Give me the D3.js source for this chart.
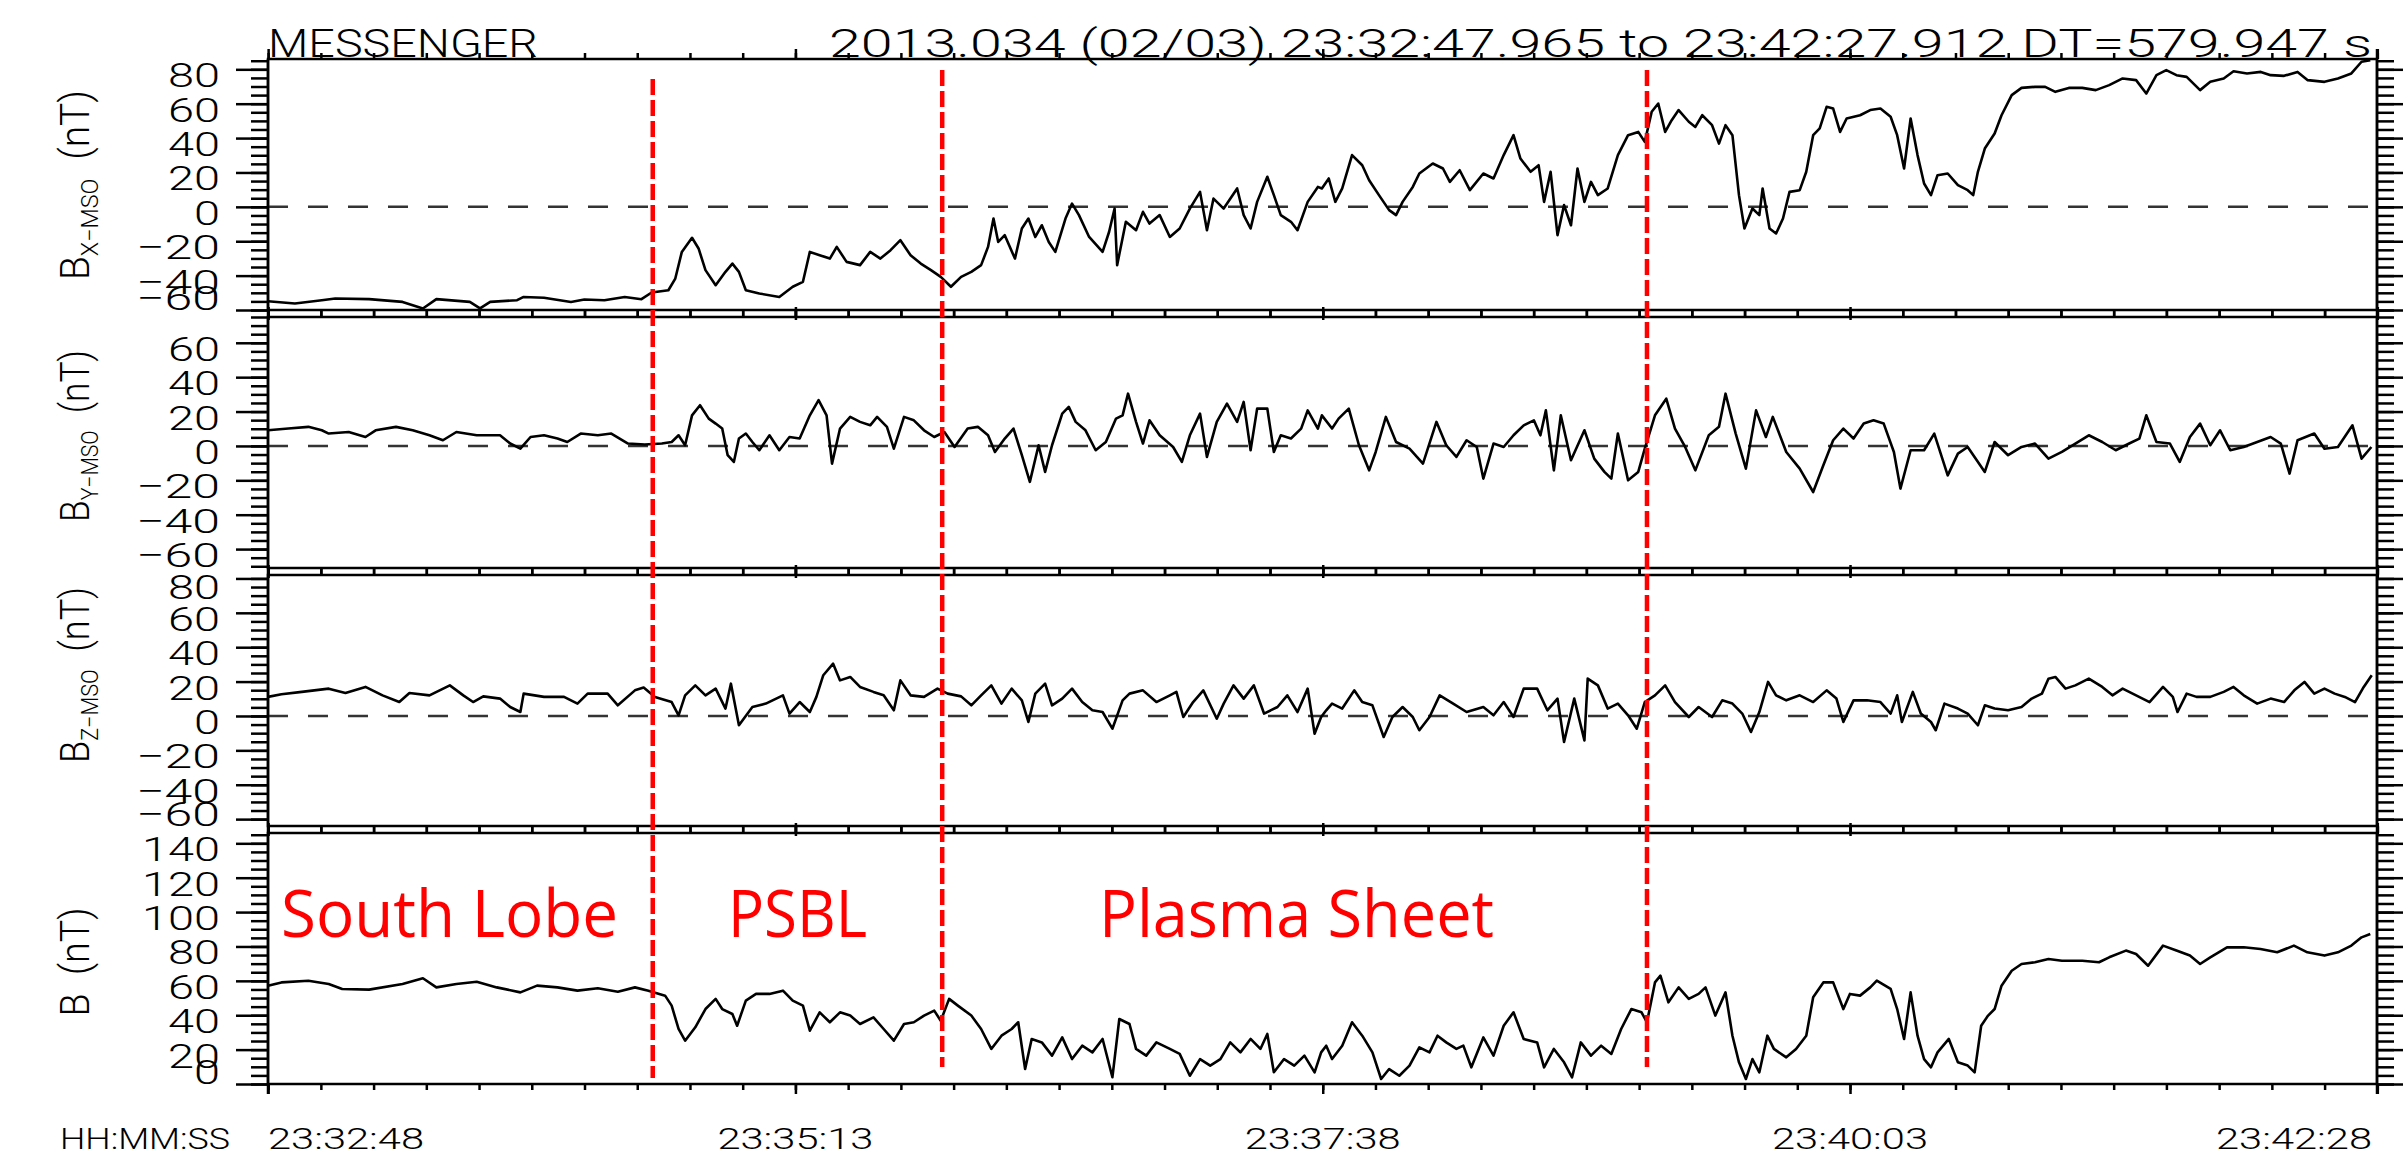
<!DOCTYPE html>
<html>
<head>
<meta charset="utf-8">
<script src="https://cdn.jsdelivr.net/npm/d3@7"></script>
<style>
  body { margin: 0; background: #fff; }
  svg text { font-family: Roboto, "DejaVu Sans", sans-serif; font-weight: 300; fill: #000; }
  .region { font-family: "Open Sans", "Noto Sans", sans-serif; font-weight: 400; fill: #ff0000; }
</style>
</head>
<body>
<div id="chart"></div>
<script>
// ---- data (seconds after 23:32:47.965, nT) ----
const startLabel = "23:32:47.965";
const durationSec = 579.947;
const timeLabels = ["23:32:48", "23:35:13", "23:37:38", "23:40:03", "23:42:28"];
const minorStepSec = 14.5;

const bxData = [[0,-54.9],[7.4,-56.2],[14.8,-54.3],[18.5,-53.3],[27.8,-53.7],[37.0,-55.3],[42.6,-59.1],[46.3,-53.7],[55.5,-55.3],[58.3,-59.1],[61.1,-55.3],[68.5,-54.3],[70.3,-52.4],[75.9,-52.9],[83.3,-55.3],[87.0,-53.9],[92.5,-54.3],[98.1,-52.4],[102.7,-53.7],[105.5,-49.8],[110.1,-48.5],[112.0,-41.7],[113.8,-26.2],[116.6,-18.0],[118.4,-24.2],[120.3,-36.8],[123.1,-45.6],[125.8,-37.8],[127.7,-33.0],[129.5,-37.8],[131.4,-48.5],[135.1,-50.4],[140.6,-52.4],[144.3,-46.5],[147.1,-43.6],[149.0,-26.2],[151.7,-28.1],[154.5,-30.1],[156.4,-23.3],[159.1,-32.0],[162.8,-33.9],[165.6,-26.2],[168.4,-30.1],[171.2,-25.2],[173.9,-19.4],[176.7,-28.1],[179.5,-33.0],[182.3,-36.8],[185.0,-40.7],[187.8,-46.5],[190.6,-40.7],[193.4,-37.8],[196.1,-33.9],[198.0,-23.3],[199.5,-6.8],[200.8,-20.4],[202.6,-16.5],[205.4,-30.1],[207.3,-12.6],[209.1,-6.8],[211.0,-17.5],[212.8,-10.7],[214.7,-20.4],[216.5,-26.2],[219.3,-6.8],[221.1,1.9],[223.0,-4.8],[225.8,-17.5],[229.5,-26.2],[231.3,-14.5],[232.8,-1.0],[233.5,-33.9],[235.9,-8.7],[238.7,-13.6],[240.6,-2.9],[242.4,-9.7],[245.2,-4.8],[248.0,-17.5],[250.7,-12.6],[253.5,-1.0],[256.3,8.7],[258.2,-13.6],[260.0,4.8],[262.8,-1.0],[266.5,10.7],[268.3,-4.8],[270.2,-12.6],[272.0,2.9],[274.8,17.5],[276.6,6.8],[278.5,-4.8],[281.3,-8.7],[283.1,-13.6],[285.9,2.9],[288.7,11.6],
  [289.8,10.7],[291.7,16.5],[293.5,2.9],[295.4,10.7],[298.1,30.1],[300.9,24.2],[302.8,15.5],[305.5,6.8],[308.3,-1.9],[310.2,-4.8],[312.0,2.9],[314.8,11.6],[316.6,19.4],[320.3,25.2],[323.1,22.3],[325.0,14.5],[327.7,21.3],[330.5,9.7],[334.2,19.4],[337.0,16.5],[339.8,30.1],[342.5,41.7],[344.4,28.1],[347.2,20.4],[349.4,24.2],[350.9,2.9],[352.7,20.4],[354.6,-16.5],[356.4,1.0],[358.3,-10.7],[360.1,22.3],[362.0,2.9],[363.8,14.5],[365.7,6.8],[368.4,10.7],[371.2,30.1],[374.0,41.7],[376.8,43.6],[378.6,37.8],[380.5,55.3],[382.3,60.1],[384.2,43.6],[386.0,50.4],[387.9,56.3],[390.7,49.5],[392.5,46.5],[394.4,53.3],[397.1,47.5],[399.0,36.8],[400.8,47.5],[402.7,41.7],[404.5,6.8],[406.0,-12.6],[408.2,-1.0],[410.1,-4.8],[411.0,10.7],[412.9,-12.6],[414.7,-15.5],[416.6,-6.8],[418.4,8.7],[421.2,9.7],[423.0,20.4],[424.9,41.7],[426.7,45.6],[428.6,58.2],[430.4,57.2],[432.3,43.6],[434.1,51.4],[437.8,53.3],[440.6,56.3],[443.4,57.2],[446.2,52.4],[448.0,41.7],[449.9,22.3],[451.7,51.4],[453.6,30.1],[455.4,13.6],[457.3,6.8],[459.1,18.4],[461.9,19.4],[464.7,12.6],[467.4,9.7],[468.9,6.8],[470.2,20.4],[472.1,33.9],[474.8,42.7],[476.7,53.3],[479.5,65.0],[482.2,69.2],[485.9,69.8],[488.7,69.8],[491.5,66.9],[495.2,69.2],[498.9,69.2],[502.6,67.9],[506.3,70.8],[510.0,74.7],[513.7,73.7],[516.5,65.9],[519.3,76.6],[522.0,79.5],[524.8,76.6],[527.6,75.6],[531.3,67.9],[534.1,72.7],[537.8,74.7],[540.5,78.9],[544.2,77.6],[548.0,78.5],[550.7,76.6],[554.4,76.2],[558.1,78.5],[560.9,73.7],[565.5,72.7],[569.2,74.7],[572.9,77.6],[575.7,84.4],[578.1,85.3]];

const byData = [[0,9.1],[5.6,10.1],[11.1,11.1],[14.8,9.1],[16.7,7.2],[22.2,8.1],[26.8,5.2],[29.6,9.1],[35.2,11.1],[39.8,9.1],[44.4,6.2],[48.1,3.3],[51.8,8.1],[57.4,6.2],[63.8,6.2],[66.6,1.4],[69.4,-1.6],[72.2,5.2],[75.9,6.2],[79.6,4.3],[82.3,2.3],[86.0,7.2],[90.7,6.2],[94.4,7.2],[99.0,1.4],[103.6,0.8],[108.3,1.4],[111.0,2.3],[112.9,6.2],[114.7,0.4],[116.6,17.8],[118.8,23.7],[121.2,15.9],[123.1,13.0],[124.9,10.1],[126.4,-5.4],[128.1,-9.3],[129.5,4.3],[131.4,7.2],[133.2,2.3],[135.1,-2.5],[137.9,6.2],[140.6,-2.5],[143.4,5.2],[146.2,4.3],[149.0,17.8],[151.4,26.6],[153.6,17.8],[155.1,-10.3],[157.3,10.1],[160.1,16.9],[162.8,14.0],[165.6,12.0],[167.5,16.9],[170.2,11.1],[172.1,-1.6],[174.9,16.9],[177.6,14.9],[180.4,9.1],[183.2,5.2],[186.0,8.1],[188.8,-0.6],[192.4,10.1],[195.2,11.1],[198.0,6.2],[199.9,-3.5],[202.6,4.3],[205.0,10.1],[207.3,-5.4],[209.5,-20.9],[211.9,0.4],[213.7,-15.1],[215.6,0.4],[218.4,18.8],[220.2,22.7],[222.1,14.0],[224.8,9.1],[227.6,-2.5],[230.4,2.3],[233.2,15.9],[235.0,17.8],[236.5,30.4],[238.7,14.0],[240.6,1.4],[242.4,14.9],[245.2,6.2],[248.9,-0.6],[251.3,-9.3],[253.5,6.2],[256.3,18.8],[258.2,-6.4],[260.9,14.0],[263.7,24.6],[266.5,14.0],[268.3,25.6],[270.2,-2.5],[272.0,21.7],[274.8,21.7],[276.6,-3.5],[278.5,6.2],[281.3,4.3],[284.1,10.1],[285.9,20.7],[288.7,10.1],
  [289.8,17.8],[292.6,10.1],[294.4,15.9],[297.2,21.7],[300.0,0.4],[302.8,-14.2],[304.6,-3.5],[307.4,16.9],[310.2,2.3],[313.9,-1.6],[317.6,-10.3],[321.3,14.0],[324.0,0.4],[326.8,-6.4],[329.6,3.3],[332.4,-0.6],[334.2,-19.0],[337.0,1.4],[339.8,-0.6],[342.5,6.2],[345.3,12.0],[348.1,14.9],[349.9,6.2],[351.4,20.7],[353.6,-14.2],[355.5,17.8],[358.3,-8.3],[362.0,9.1],[364.7,-7.4],[367.5,-15.1],[369.4,-19.0],[371.2,7.2],[374.0,-20.0],[376.8,-15.1],[378.6,-1.6],[381.4,17.8],[384.5,27.5],[386.9,10.1],[389.7,-0.6],[392.5,-14.2],[396.2,6.2],[399.0,11.1],[400.8,30.4],[403.6,7.2],[406.4,-13.2],[409.2,20.7],[411.9,5.2],[413.8,16.9],[417.5,-3.5],[421.2,-13.2],[424.9,-26.8],[427.7,-11.2],[430.4,3.3],[433.2,10.1],[436.0,4.3],[438.8,13.0],[441.5,14.9],[444.3,13.0],[447.1,-3.5],[448.9,-24.8],[451.7,-2.5],[455.4,-2.5],[458.2,7.2],[461.9,-17.1],[464.7,-4.5],[467.4,-0.6],[472.1,-15.1],[474.8,2.3],[478.5,-5.4],[482.2,-0.6],[485.9,1.4],[489.6,-7.4],[493.3,-3.5],[497.0,1.4],[500.7,6.2],[504.4,2.3],[508.1,-2.5],[511.8,1.4],[514.6,4.3],[516.5,17.8],[519.3,2.3],[523.0,1.4],[525.7,-9.3],[528.5,5.2],[531.3,13.0],[534.1,0.4],[536.8,9.1],[539.6,-2.5],[543.3,-0.6],[547.0,2.3],[550.7,5.2],[553.5,1.4],[555.9,-16.1],[558.1,3.3],[562.7,7.2],[565.5,-1.6],[569.2,-0.6],[573.2,12.0],[575.7,-7.4],[578.4,-0.6]];

const bzData = [[0,11.1],[3.7,12.6],[9.3,14.0],[16.7,15.9],[21.3,13.4],[26.8,16.9],[31.5,12.0],[36.1,8.1],[38.9,13.4],[44.4,12.0],[50.0,17.8],[53.7,12.0],[56.4,8.1],[59.2,11.4],[63.8,10.1],[66.6,5.2],[69.4,2.3],[70.3,13.0],[75.9,11.1],[81.4,11.1],[85.1,7.2],[87.9,13.0],[93.4,13.0],[96.2,6.2],[100.9,14.9],[103.3,16.5],[106.4,11.1],[111.0,8.1],[112.9,0.4],[114.7,12.0],[117.5,17.8],[120.3,12.0],[123.1,15.9],[125.8,4.3],[127.3,18.8],[129.5,-5.4],[133.2,5.2],[136.9,7.2],[141.6,12.0],[143.4,1.4],[146.2,8.1],[149.0,2.3],[150.8,11.1],[152.7,23.7],[155.4,30.4],[157.3,20.7],[160.1,22.7],[162.8,16.9],[166.5,14.0],[169.3,12.0],[172.1,3.3],[173.9,20.7],[176.7,12.0],[180.4,11.1],[184.1,15.9],[186.9,13.0],[190.6,11.4],[193.4,6.2],[196.1,12.0],[198.9,17.8],[201.7,7.2],[204.5,15.9],[207.3,9.1],[209.1,-3.5],[211.0,13.0],[213.7,18.8],[215.6,6.2],[218.4,10.1],[221.1,15.9],[223.9,8.1],[226.7,3.3],[229.5,2.3],[232.2,-7.4],[235.0,9.1],[236.9,13.0],[240.6,14.9],[244.3,8.1],[248.0,12.0],[249.8,14.0],[251.7,-0.6],[254.4,8.1],[257.2,14.9],[260.9,-1.6],[262.8,7.2],[265.5,17.8],[268.3,10.1],[271.1,17.8],[273.9,1.4],[277.6,5.2],[280.3,12.0],[283.1,2.3],[285.9,15.9],[287.8,-10.3],[289.6,-0.6],
  [291.0,3.3],[292.6,7.2],[295.4,4.3],[298.7,14.9],[300.9,8.1],[303.7,6.2],[306.8,-12.2],[309.2,-0.6],[312.0,5.2],[314.8,-0.6],[316.6,-8.3],[319.4,-0.6],[322.2,12.0],[325.9,7.2],[329.6,2.3],[334.2,5.2],[337.0,0.4],[339.8,8.1],[342.5,-0.6],[345.3,15.9],[349.0,15.9],[351.8,3.3],[354.6,10.1],[356.4,-15.1],[359.2,10.1],[362.0,-14.2],[362.9,21.7],[365.7,17.8],[368.4,4.3],[371.2,7.2],[374.0,0.4],[376.4,-7.4],[378.6,8.1],[381.4,12.0],[384.2,17.8],[386.9,8.1],[390.7,-0.6],[393.4,5.2],[397.1,-0.6],[399.9,9.1],[402.7,7.2],[405.4,1.4],[407.8,-9.3],[410.1,2.3],[412.5,19.8],[414.7,12.0],[417.5,9.1],[421.2,12.0],[424.9,8.1],[428.6,14.9],[431.3,10.1],[433.2,-3.5],[436.0,9.1],[439.7,9.1],[443.4,8.1],[446.2,1.4],[448.0,12.0],[449.3,-3.5],[452.3,14.0],[454.5,1.4],[457.3,-3.5],[458.6,-8.3],[461.0,7.2],[464.7,4.3],[467.4,1.4],[470.2,-5.4],[472.1,6.2],[474.8,4.3],[478.5,3.3],[482.2,5.2],[485.0,10.1],[487.8,13.0],[489.6,21.7],[491.5,22.7],[494.3,15.9],[497.0,17.8],[500.7,21.7],[504.4,16.9],[507.2,12.0],[510.0,15.9],[513.7,12.0],[517.4,8.1],[521.1,16.9],[523.8,11.1],[525.1,2.3],[527.6,13.0],[530.3,11.1],[534.1,11.1],[537.8,14.0],[540.5,16.9],[543.3,12.0],[547.0,7.2],[550.7,10.1],[554.4,8.1],[557.2,14.9],[560.0,19.8],[562.7,13.0],[565.5,15.9],[568.3,13.0],[571.1,11.1],[573.9,8.1],[576.3,16.9],[578.5,23.7]];

const bData = [[0,57.2],[3.7,59.1],[11.1,60.1],[16.7,58.2],[20.4,55.3],[27.8,54.9],[37.0,58.2],[42.6,61.5],[46.3,56.2],[51.8,58.2],[57.4,59.5],[62.9,56.2],[69.4,53.3],[74.0,57.2],[79.6,56.2],[85.1,54.3],[90.7,55.7],[96.2,53.7],[100.9,56.2],[104.6,54.3],[109.2,51.4],[111.0,45.6],[112.9,32.0],[114.7,25.2],[117.5,33.0],[120.3,43.6],[123.1,49.5],[124.9,43.6],[127.7,40.7],[129.0,33.9],[131.4,48.5],[134.2,52.4],[137.9,52.4],[141.6,54.3],[144.3,48.5],[147.1,45.6],[149.0,31.0],[151.7,41.7],[154.5,35.9],[157.3,41.7],[160.1,39.8],[162.8,34.9],[166.5,38.8],[169.3,32.0],[172.1,25.2],[174.9,34.9],[177.6,35.9],[180.4,39.8],[183.2,42.7],[185.0,36.8],[187.3,49.5],[189.7,45.6],[193.4,39.8],[196.1,32.0],[198.9,20.4],[201.7,28.1],[204.5,32.0],[206.3,35.9],[208.2,8.7],[210.0,26.2],[212.8,24.2],[215.6,16.5],[218.4,27.1],[221.1,14.5],[223.9,22.3],[226.7,18.4],[229.5,26.2],[232.2,3.9],[234.1,37.8],[236.9,34.9],[238.7,20.4],[241.5,16.5],[244.3,24.2],[248.0,20.4],[250.7,17.5],[253.5,4.8],[256.3,14.5],[259.1,10.7],[261.9,14.5],[264.6,24.2],[267.4,18.4],[270.2,26.2],[272.9,20.4],[274.8,29.1],[276.6,6.8],[279.4,14.5],[282.2,10.7],[285.0,16.5],[287.8,6.8],[289.6,18.4],
  [291.0,22.3],[292.6,14.5],[295.4,22.3],[298.1,35.9],[300.9,28.1],[303.7,18.4],[306.1,2.9],[308.3,8.7],[311.1,4.8],[313.9,10.7],[316.6,21.3],[319.4,18.4],[321.6,28.1],[324.0,24.2],[326.8,20.4],[328.7,22.3],[330.9,9.7],[334.2,27.1],[337.0,16.5],[339.8,33.9],[342.5,41.7],[345.3,26.2],[349.0,24.2],[350.9,9.7],[353.6,20.4],[356.4,12.6],[358.6,3.9],[361.0,24.2],[363.8,16.5],[366.6,22.3],[369.4,17.5],[372.1,32.0],[374.9,43.6],[377.7,41.7],[379.2,35.9],[381.4,59.1],[382.9,63.0],[385.1,47.5],[387.9,56.2],[390.7,49.5],[393.4,52.4],[395.3,56.2],[398.0,39.8],[400.8,53.3],[402.7,28.1],[404.5,12.6],[406.4,2.9],[408.2,14.5],[410.1,6.8],[412.3,28.1],[414.1,20.4],[417.5,15.5],[420.2,20.4],[423.0,28.1],[424.9,50.4],[427.7,59.1],[430.4,59.1],[433.2,43.6],[435.0,52.4],[437.8,51.4],[440.6,56.2],[442.4,60.1],[446.2,55.3],[448.0,43.6],[449.9,26.2],[451.7,53.3],[453.6,28.1],[455.4,14.5],[457.3,9.7],[459.1,18.4],[462.2,26.2],[464.7,12.6],[467.4,10.7],[469.3,6.8],[471.1,33.9],[473.0,39.8],[474.8,43.6],[476.7,57.2],[479.5,65.9],[482.2,69.8],[485.9,70.8],[489.6,72.7],[493.3,71.7],[498.9,71.7],[503.5,70.8],[506.3,73.7],[510.9,77.6],[513.7,75.6],[517.0,68.8],[521.1,80.5],[524.8,77.6],[528.5,74.7],[531.3,69.8],[534.1,73.7],[538.7,79.5],[543.3,79.5],[547.9,78.5],[552.5,76.6],[557.1,80.5],[560.8,76.6],[565.5,74.7],[569.2,76.6],[572.9,80.5],[575.7,85.3],[578.1,87.3]];

// panel axis ranges and major ticks (nT)
const bxRange = [-60, 86], byRange = [-71, 75], bzRange = [-64, 82], bRange = [0, 146];
const bxTicks = [-60, -40, -20, 0, 20, 40, 60, 80];
const byTicks = [-60, -40, -20, 0, 20, 40, 60];
const bzTicks = [-60, -40, -20, 0, 20, 40, 60, 80];
const bTicks  = [0, 20, 40, 60, 80, 100, 120, 140];
const panelSubs = ["X\u2212MSO", "Y\u2212MSO", "Z\u2212MSO", ""];

// region boundaries (s) and names
const boundaryTimes = [105.8, 185.4, 379.2];
const regionNames = ["South Lobe", "PSBL", "Plasma Sheet"];

// ---- layout ----
const W = 2403, H = 1158;
const left = 268, right = 2377;
const panelTop = [59, 317, 575, 833], panelH = 251;
const titleCenter = [185, 436, 675, 962], titleLen = [190, 172, 176, 109];
const regionBox = [[281, 618], [728, 867], [1099, 1494]];
const boundaryY = [[79, 1078], [70, 1067], [70, 1067]];

const panels = [
  {data: bxData, range: bxRange, ticks: bxTicks, zero: true},
  {data: byData, range: byRange, ticks: byTicks, zero: true},
  {data: bzData, range: bzRange, ticks: bzTicks, zero: true},
  {data: bData,  range: bRange,  ticks: bTicks,  zero: false}
];

function toSec(s) {
  const p = s.split(":").map(Number);
  return p[0] * 3600 + p[1] * 60 + p[2];
}
const t0 = toSec(startLabel);
const majorT = timeLabels.map(l => toSec(l) - t0);
const minorT = d3.range(majorT[0], durationSec + 1, minorStepSec);

const x = d3.scaleLinear().domain([0, durationSec]).range([left, right]);

const svg = d3.select("#chart").append("svg")
  .attr("width", W).attr("height", H)
  .style("display", "block");

svg.append("rect").attr("width", W).attr("height", H).attr("fill", "#fff");

const stroke = 2.5;

panels.forEach(function(p, i) {
  const top = panelTop[i], bottom = top + panelH;
  const y = d3.scaleLinear().domain(p.range).range([bottom, top]);
  const g = svg.append("g");

  const minorY = d3.range(Math.ceil(p.range[0] / 5) * 5, p.range[1] + 0.01, 5);

  // y ticks, both sides, outward
  [[d3.axisLeft, left], [d3.axisRight, right]].forEach(function(a) {
    g.append("g").attr("transform", `translate(${a[1]},0)`)
      .call(a[0](y).tickValues(minorY).tickSize(17).tickSizeOuter(0).tickFormat(""));
    g.append("g").attr("transform", `translate(${a[1]},0)`)
      .call(a[0](y).tickValues(p.ticks).tickSize(32).tickSizeOuter(0).tickFormat(""));
  });

  // x ticks on top and bottom edges
  g.append("g").attr("transform", `translate(0,${top})`)
    .call(d3.axisTop(x).tickValues(minorT).tickSize(6).tickSizeOuter(0).tickFormat(""));
  g.append("g").attr("transform", `translate(0,${top})`)
    .call(d3.axisTop(x).tickValues(majorT).tickSize(10).tickSizeOuter(0).tickFormat(""));
  g.append("g").attr("transform", `translate(0,${bottom})`)
    .call(d3.axisBottom(x).tickValues(minorT).tickSize(6).tickSizeOuter(0).tickFormat(""));
  g.append("g").attr("transform", `translate(0,${bottom})`)
    .call(d3.axisBottom(x).tickValues(majorT).tickSize(10).tickSizeOuter(0).tickFormat(""));

  // box
  g.append("rect").attr("x", left).attr("y", top)
    .attr("width", right - left).attr("height", panelH)
    .attr("fill", "none").attr("stroke", "#000").attr("stroke-width", stroke);

  // zero line
  if (p.zero) {
    g.append("line").attr("x1", left).attr("x2", right)
      .attr("y1", y(0)).attr("y2", y(0))
      .attr("stroke", "#333").attr("stroke-width", 2.5)
      .attr("stroke-dasharray", "20,20");
  }

  // tick labels
  p.ticks.forEach(function(v) {
    const s = v < 0 ? "\u2212" + Math.abs(v) : String(v);
    const cy = Math.max(top + 12, Math.min(bottom - 12, y(v) + 6));
    g.append("text").attr("x", 220).attr("y", cy + 12)
      .attr("text-anchor", "end")
      .attr("font-size", 34)
      .attr("textLength", s.length * 26 + (v < 0 ? 6 : 0))
      .attr("lengthAdjust", "spacingAndGlyphs")
      .text(s);
  });

  // data trace
  g.append("path").datum(p.data)
    .attr("fill", "none").attr("stroke", "#000")
    .attr("stroke-width", 2.6).attr("stroke-linejoin", "round")
    .attr("d", d3.line().x(d => x(d[0])).y(d => y(d[1])));

  // axis title
  const tt = g.append("text")
    .attr("transform", `translate(89,${titleCenter[i]}) rotate(-90)`)
    .attr("text-anchor", "middle")
    .attr("font-size", 40)
    .attr("textLength", titleLen[i])
    .attr("lengthAdjust", "spacingAndGlyphs");
  tt.append("tspan").text("B");
  if (panelSubs[i]) {
    tt.append("tspan").attr("font-size", 24).attr("dy", 9).text(panelSubs[i]);
    tt.append("tspan").attr("dy", -9).text("\u00a0\u00a0(nT)");
  } else {
    tt.append("tspan").text("\u00a0\u00a0(nT)");
  }
});

// continuous side axes
svg.append("line").attr("x1", left).attr("x2", left)
  .attr("y1", panelTop[0]).attr("y2", panelTop[3] + panelH + 10)
  .attr("stroke", "#000").attr("stroke-width", stroke);
svg.append("line").attr("x1", right).attr("x2", right)
  .attr("y1", panelTop[0] - 10).attr("y2", panelTop[3] + panelH + 10)
  .attr("stroke", "#000").attr("stroke-width", stroke);

svg.selectAll(".tick line").attr("stroke", "#000").attr("stroke-width", stroke);
svg.selectAll(".domain").remove();

// title
svg.append("text").attr("x", left).attr("y", 57)
  .attr("font-size", 39).attr("textLength", 270).attr("lengthAdjust", "spacingAndGlyphs")
  .text("MESSENGER");
svg.append("text").attr("x", 829).attr("y", 57)
  .attr("font-size", 39).attr("textLength", 1543).attr("lengthAdjust", "spacingAndGlyphs")
  .text("2013.034 (02/03) 23:32:47.965 to 23:42:27.912 DT=579.947 s");

// time labels
svg.append("text").attr("x", 60).attr("y", 1149)
  .attr("font-size", 29).attr("textLength", 170).attr("lengthAdjust", "spacingAndGlyphs")
  .text("HH:MM:SS");
timeLabels.forEach(function(l, i) {
  const anchor = i === 0 ? "start" : (i === timeLabels.length - 1 ? "end" : "middle");
  const xx = i === 0 ? left : (i === timeLabels.length - 1 ? right - 5 : x(majorT[i]));
  svg.append("text").attr("x", xx).attr("y", 1149)
    .attr("text-anchor", anchor)
    .attr("font-size", 29).attr("textLength", 156).attr("lengthAdjust", "spacingAndGlyphs")
    .text(l);
});

// region boundaries
boundaryTimes.forEach(function(t, i) {
  svg.append("line").attr("x1", x(t)).attr("x2", x(t))
    .attr("y1", boundaryY[i][0]).attr("y2", boundaryY[i][1])
    .attr("stroke", "#ff0000").attr("stroke-width", 4.5)
    .attr("stroke-dasharray", "16,5");
});

regionNames.forEach(function(n, i) {
  svg.append("text").attr("class", "region")
    .attr("x", regionBox[i][0]).attr("y", 937)
    .attr("font-size", 65)
    .attr("textLength", regionBox[i][1] - regionBox[i][0])
    .attr("lengthAdjust", "spacingAndGlyphs")
    .text(n);
});
</script>
</body>
</html>
